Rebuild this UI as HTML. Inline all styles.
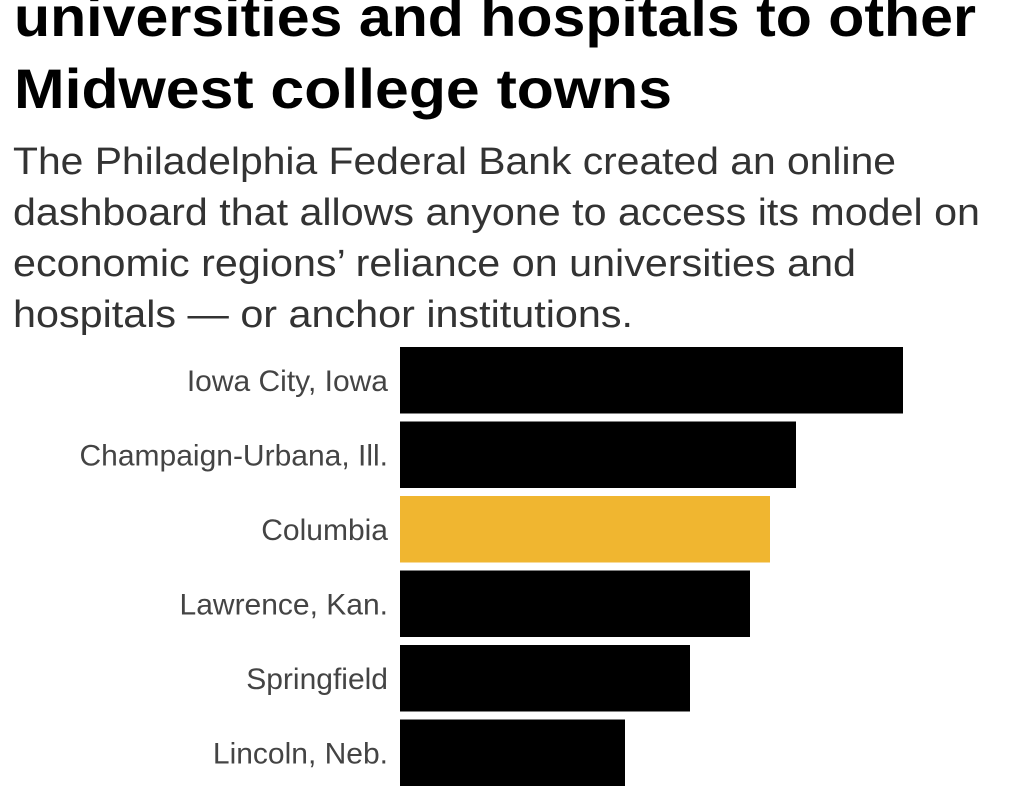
<!DOCTYPE html>
<html><head><meta charset="utf-8"><style>
body{margin:0;background:#fff;width:1024px;height:800px;overflow:hidden}
svg{display:block}
</style></head><body>
<svg width="1024" height="800" viewBox="0 0 1024 800" font-family="'Liberation Sans', sans-serif">
<g font-weight="bold" font-size="56" fill="#000">
<text x="14" y="36" textLength="962" lengthAdjust="spacingAndGlyphs">universities and hospitals to other</text>
<text x="14" y="108" textLength="658" lengthAdjust="spacingAndGlyphs">Midwest college towns</text>
</g>
<g font-size="38" fill="#333">
<text x="13" y="174" textLength="883" lengthAdjust="spacingAndGlyphs">The Philadelphia Federal Bank created an online</text>
<text x="13" y="225" textLength="967" lengthAdjust="spacingAndGlyphs">dashboard that allows anyone to access its model on</text>
<text x="13" y="276" textLength="843" lengthAdjust="spacingAndGlyphs">economic regions’ reliance on universities and</text>
<text x="13" y="327" textLength="620" lengthAdjust="spacingAndGlyphs">hospitals — or anchor institutions.</text>
</g>
<g id="bars"></g>
</svg>
<script>
const categories = ["Iowa City, Iowa","Champaign-Urbana, Ill.","Columbia","Lawrence, Kan.","Springfield","Lincoln, Neb."];
const values = [503,396,370,350,290,225];
const highlight = ["Columbia"];
const xMax = 600;
function xScale(v){return v/xMax*600;}
function yScale(i){return 347+i*74.5;}
const g=document.getElementById('bars');
const ns="http://www.w3.org/2000/svg";
categories.forEach((c,i)=>{
  const r=document.createElementNS(ns,'rect');
  
  
  r.setAttribute('x',400);r.setAttribute('y',yScale(i));
  r.setAttribute('width',xScale(values[i]));r.setAttribute('height',66.5);
  r.setAttribute('fill',highlight.includes(c)?'#f0b630':'#000');
  g.appendChild(r);
  const t=document.createElementNS(ns,'text');
  
  
  t.setAttribute('x',388);t.setAttribute('y',yScale(i)+44);
  t.setAttribute('text-anchor','end');t.setAttribute('font-size','30');t.setAttribute('fill','#444');
  t.textContent=c;
  g.appendChild(t);
});
</script>
</body></html>
